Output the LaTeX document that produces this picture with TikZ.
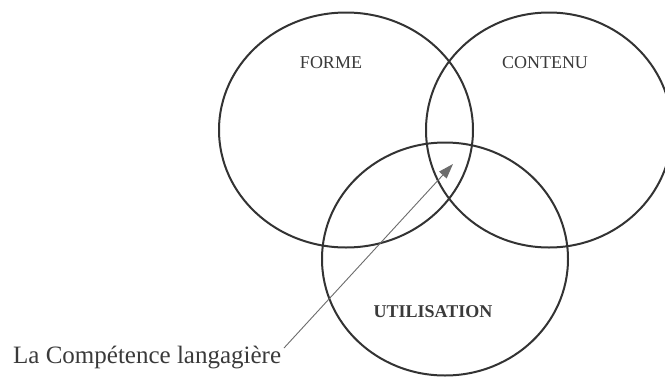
\documentclass[tikz,border=0pt]{standalone}
\usepackage{fontspec}
\setmainfont{Liberation Serif}
\usetikzlibrary{shapes.geometric,arrows.meta}
\definecolor{ink}{HTML}{333333}
\definecolor{txt}{HTML}{3A3A3A}
\tikzset{
  ring/.style={draw=ink, line width=2pt, ellipse, inner sep=0pt},
  lab/.style={text=txt, font=\fontsize{18}{20}\selectfont, inner sep=0pt},
  pointer/.style={draw=gray!85!black, line width=0.9pt,
    -{Triangle[length=15pt,width=10pt]}}
}
\begin{document}
\begin{tikzpicture}[x=1pt,y=-1pt]
  \clip (0,0) rectangle (665,378);
  \fill[white] (0,0) rectangle (665,378);
  \node[ring, minimum width=254pt, minimum height=235pt] (forme) at (346,130) {};
  \node[ring, minimum width=246pt, minimum height=235pt] (contenu) at (549,130) {};
  \node[ring, minimum width=246pt, minimum height=233pt] (util) at (445,259) {};
  \node[lab] (tforme) at (331,63) {FORME};
  \node[lab] (tcontenu) at (545,63) {CONTENU};
  \node[lab, font=\fontsize{18}{20}\selectfont\bfseries] (tutil) at (433,312) {UTILISATION};
  \node[text=txt, font=\fontsize{25}{28}\selectfont, inner sep=0pt, anchor=base west] (comp) at (13,363) {La Compétence langagière};
  \coordinate (tail) at (284,348);
  \coordinate (tip) at (453,164);
  \draw[pointer] (tail) -- (tip);
\end{tikzpicture}
\end{document}
